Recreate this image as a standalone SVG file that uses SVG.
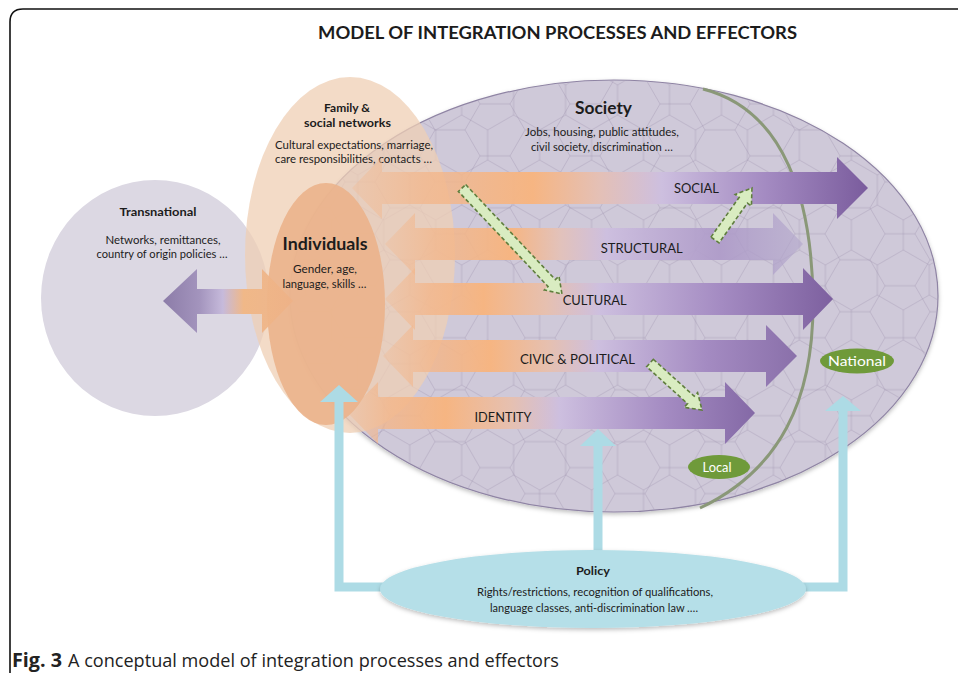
<svg xmlns="http://www.w3.org/2000/svg" width="958" height="673" viewBox="0 0 958 673">
<style>
text{font-family:Lato,"Open Sans","Liberation Sans",sans-serif;fill:#1c1c1c}
.h{font-size:12px;font-weight:700;text-anchor:middle}
.s{font-size:10.5px;text-anchor:middle}
.lbl{font-size:13px;text-anchor:middle}
.big{font-size:16.5px;font-weight:700;text-anchor:middle}
.tag{font-size:14px;fill:#fff;text-anchor:middle}
.grn{fill:#d9ecc1;stroke:#5f7e3d;stroke-width:1.6;stroke-dasharray:4 2.5}
.blue{fill:none;stroke:#addbe5;stroke-width:9}
.bh{fill:#addbe5}
.grid{fill:none;stroke:#958ba8;stroke-width:0.8;stroke-opacity:0.42}
.cap{font-family:"Open Sans","Liberation Sans",sans-serif;font-size:19px;fill:#222}
</style>
<defs>
<pattern id="hexA" width="90" height="51.96" patternUnits="userSpaceOnUse">
<path class="grid" d="M0,25.98H15L30,0H60L75,25.98H90M15,25.98L30,51.96H60L75,25.98"/>
</pattern>
<pattern id="hexB" width="90" height="51.96" patternUnits="userSpaceOnUse" patternTransform="translate(20,10) rotate(90)">
<path class="grid" d="M0,25.98H15L30,0H60L75,25.98H90M15,25.98L30,51.96H60L75,25.98"/>
</pattern>
<filter id="sh" x="-10%" y="-10%" width="120%" height="130%">
<feDropShadow dx="0" dy="2" stdDeviation="2" flood-color="#000" flood-opacity="0.25"/>
</filter>
<linearGradient id="gSoc" gradientUnits="userSpaceOnUse" x1="352" y1="0" x2="868" y2="0">
<stop offset="0" stop-color="#f3b88e" stop-opacity="0.3"/>
<stop offset="0.14" stop-color="#f3b68a" stop-opacity="0.75"/>
<stop offset="0.35" stop-color="#f6b582"/>
<stop offset="0.48" stop-color="#e4c0b6"/>
<stop offset="0.6" stop-color="#cdbfdf"/>
<stop offset="0.8" stop-color="#a48bc2"/>
<stop offset="1" stop-color="#7a5c9d"/>
</linearGradient>
<linearGradient id="gStr" gradientUnits="userSpaceOnUse" x1="385" y1="0" x2="803" y2="0">
<stop offset="0" stop-color="#f3b88e" stop-opacity="0.3"/>
<stop offset="0.12" stop-color="#f3b68a" stop-opacity="0.75"/>
<stop offset="0.3" stop-color="#f6b582"/>
<stop offset="0.42" stop-color="#e2c2bb"/>
<stop offset="0.53" stop-color="#cdbfdf"/>
<stop offset="0.8" stop-color="#ad99c8" stop-opacity="0.9"/>
<stop offset="1" stop-color="#b2a6cb" stop-opacity="0.6"/>
</linearGradient>
<linearGradient id="gCul" gradientUnits="userSpaceOnUse" x1="385" y1="0" x2="833" y2="0">
<stop offset="0" stop-color="#f3b88e" stop-opacity="0.3"/>
<stop offset="0.1" stop-color="#f3b68a" stop-opacity="0.8"/>
<stop offset="0.22" stop-color="#f6b582"/>
<stop offset="0.36" stop-color="#e6c0b0"/>
<stop offset="0.48" stop-color="#cdbfdf"/>
<stop offset="0.75" stop-color="#a48bc2"/>
<stop offset="1" stop-color="#7d609f"/>
</linearGradient>
<linearGradient id="gCiv" gradientUnits="userSpaceOnUse" x1="383" y1="0" x2="797" y2="0">
<stop offset="0" stop-color="#f3b88e" stop-opacity="0.3"/>
<stop offset="0.12" stop-color="#f3b68a" stop-opacity="0.8"/>
<stop offset="0.26" stop-color="#f6b582"/>
<stop offset="0.4" stop-color="#e6c0b0"/>
<stop offset="0.52" stop-color="#cdbfdf"/>
<stop offset="0.78" stop-color="#a48bc2"/>
<stop offset="1" stop-color="#8a70aa"/>
</linearGradient>
<linearGradient id="gIde" gradientUnits="userSpaceOnUse" x1="348" y1="0" x2="755" y2="0">
<stop offset="0" stop-color="#f3b88e" stop-opacity="0.3"/>
<stop offset="0.1" stop-color="#f3b68a" stop-opacity="0.8"/>
<stop offset="0.24" stop-color="#f6b582"/>
<stop offset="0.4" stop-color="#e6c0b0"/>
<stop offset="0.52" stop-color="#cdbfdf"/>
<stop offset="0.78" stop-color="#a48bc2"/>
<stop offset="1" stop-color="#8469a6"/>
</linearGradient>
<linearGradient id="gTra" gradientUnits="userSpaceOnUse" x1="163" y1="0" x2="293" y2="0">
<stop offset="0" stop-color="#8c7ca8"/>
<stop offset="0.28" stop-color="#a394bd"/>
<stop offset="0.46" stop-color="#c6badb"/>
<stop offset="0.62" stop-color="#f0b888"/>
<stop offset="1" stop-color="#eeb186" stop-opacity="0.85"/>
</linearGradient>
</defs>

<path d="M10,673 V22 Q10,9 23,9 H958" fill="none" stroke="#111" stroke-width="1.6"/>
<text x="557.5" y="39" class="big" textLength="479" lengthAdjust="spacingAndGlyphs">MODEL OF INTEGRATION PROCESSES AND EFFECTORS</text>

<g id="transnational">
<ellipse cx="155" cy="298" rx="114" ry="118" fill="#dcd8e3"/>
<text x="158" y="216" class="h" textLength="77" lengthAdjust="spacingAndGlyphs">Transnational</text>
<text x="163" y="244" class="s" textLength="115" lengthAdjust="spacingAndGlyphs">Networks, remittances,</text>
<text x="162" y="258" class="s" textLength="131" lengthAdjust="spacingAndGlyphs">country of origin policies …</text>
</g>

<g id="society">
<ellipse cx="614" cy="296" rx="324" ry="216" fill="#cfc9d9" stroke="#8f84a4" stroke-width="1.2" filter="url(#sh)"/>
<ellipse cx="614" cy="296" rx="323" ry="215" fill="url(#hexA)"/>
<ellipse cx="614" cy="296" rx="323" ry="215" fill="url(#hexB)"/>
<text x="603.5" y="114" class="big" font-size="17" textLength="57" lengthAdjust="spacingAndGlyphs">Society</text>
<text x="602" y="136" class="s" textLength="154" lengthAdjust="spacingAndGlyphs">Jobs, housing, public  attitudes,</text>
<text x="602" y="151" class="s" textLength="142" lengthAdjust="spacingAndGlyphs">civil society, discrimination …</text>
</g>

<g id="family">
<ellipse cx="350" cy="255" rx="105" ry="178" fill="#efcfb4" fill-opacity="0.75"/>
<text x="347" y="112" class="h">Family &amp;</text>
<text x="347.5" y="127" class="h" textLength="87" lengthAdjust="spacingAndGlyphs">social networks</text>
<text x="354" y="149" class="s" textLength="158" lengthAdjust="spacingAndGlyphs">Cultural expectations, marriage,</text>
<text x="353.5" y="163" class="s" textLength="157" lengthAdjust="spacingAndGlyphs">care responsibilities, contacts …</text>
</g>

<g id="connectors">
<path d="M703,89 C785,110 812,200 813,300 C814,400 780,470 700,508" fill="none" stroke="#8a9878" stroke-width="3"/>
<polygon fill="url(#gSoc)" points="352,188 382,157 382,172 837,172 837,157 868,188 837,219 837,204 382,204 382,219"/>
<polygon fill="url(#gStr)" points="385,244 415,213 415,228 773,228 773,213 803,244 773,275 773,260 415,260 415,275"/>
<polygon fill="url(#gCul)" points="385,299 415,268 415,283 803,283 803,268 833,299 803,330 803,315 415,315 415,330"/>
<polygon fill="url(#gCiv)" points="383,356 413,325 413,340 766,340 766,325 797,356 766,387 766,372 413,372 413,387"/>
<polygon fill="url(#gIde)" points="348,413 378,382 378,397 725,397 725,382 755,413 725,444 725,429 378,429 378,444"/>
</g>

<g id="individuals">
<ellipse cx="326" cy="304" rx="59" ry="121" fill="#ebb38b" fill-opacity="0.9"/>
<text x="325" y="250" class="big" font-size="16.5" textLength="85" lengthAdjust="spacingAndGlyphs">Individuals</text>
<text x="325" y="273" class="s" textLength="64" lengthAdjust="spacingAndGlyphs">Gender, age,</text>
<text x="324.5" y="288" class="s" textLength="84" lengthAdjust="spacingAndGlyphs">language, skills …</text>
</g>

<g id="connectors2">
<polygon fill="url(#gTra)" points="163,301 197,269 197,289 262,289 262,269 293,301 262,333 262,314 197,314 197,333"/>
<path class="grn" transform="translate(462,188) rotate(46.67)" d="M0,-5 H130.7 V-10 L145.7,0 L130.7,10 V5 H0 Z"/>
<path class="grn" transform="translate(715,240) rotate(-54.6)" d="M0,-5 H48.8 V-10 L63.8,0 L48.8,10 V5 H0 Z"/>
<path class="grn" transform="translate(650,363) rotate(42.1)" d="M0,-5 H55.1 V-10 L70.1,0 L55.1,10 V5 H0 Z"/>
<path class="blue" d="M384,587 H339 V400"/>
<polygon class="bh" points="320,402 358,402 339,385"/>
<path class="blue" d="M598,552 V444"/>
<polygon class="bh" points="580,446 616,446 598,429"/>
<path class="blue" d="M803,587 H843 V409"/>
<polygon class="bh" points="825,411 861,411 843,396"/>
</g>

<g id="labels">
<text x="696.5" y="193" class="lbl" textLength="45" lengthAdjust="spacingAndGlyphs">SOCIAL</text>
<text x="641.7" y="253" class="lbl" textLength="82" lengthAdjust="spacingAndGlyphs">STRUCTURAL</text>
<text x="594.7" y="305" class="lbl" textLength="64" lengthAdjust="spacingAndGlyphs">CULTURAL</text>
<text x="577.5" y="364" class="lbl" textLength="115" lengthAdjust="spacingAndGlyphs">CIVIC &amp; POLITICAL</text>
<text x="503" y="422" class="lbl" textLength="57" lengthAdjust="spacingAndGlyphs">IDENTITY</text>
</g>

<g id="national">
<ellipse cx="857" cy="361" rx="37" ry="12.5" fill="#6f9a3a"/>
<text x="857" y="366" class="tag" textLength="58" lengthAdjust="spacingAndGlyphs">National</text>
</g>
<g id="local">
<ellipse cx="719" cy="467" rx="31" ry="12" fill="#6f9a3a"/>
<text x="717" y="472" class="tag" font-size="13" textLength="29" lengthAdjust="spacingAndGlyphs">Local</text>
</g>

<g id="policy">
<ellipse cx="593" cy="589" rx="213" ry="39" fill="#b5dfe8" filter="url(#sh)"/>
<text x="593" y="575" class="h" font-size="13" textLength="34" lengthAdjust="spacingAndGlyphs">Policy</text>
<text x="595" y="596" class="s" textLength="236" lengthAdjust="spacingAndGlyphs">Rights/restrictions, recognition of qualifications,</text>
<text x="594" y="612" class="s" textLength="208" lengthAdjust="spacingAndGlyphs">language classes, anti-discrimination law ….</text>
</g>

<text x="12" y="667" class="cap" font-weight="700" textLength="50" lengthAdjust="spacingAndGlyphs">Fig. 3</text>
<text x="68" y="667" class="cap" textLength="491" lengthAdjust="spacingAndGlyphs">A conceptual model of integration processes and effectors</text>
</svg>
